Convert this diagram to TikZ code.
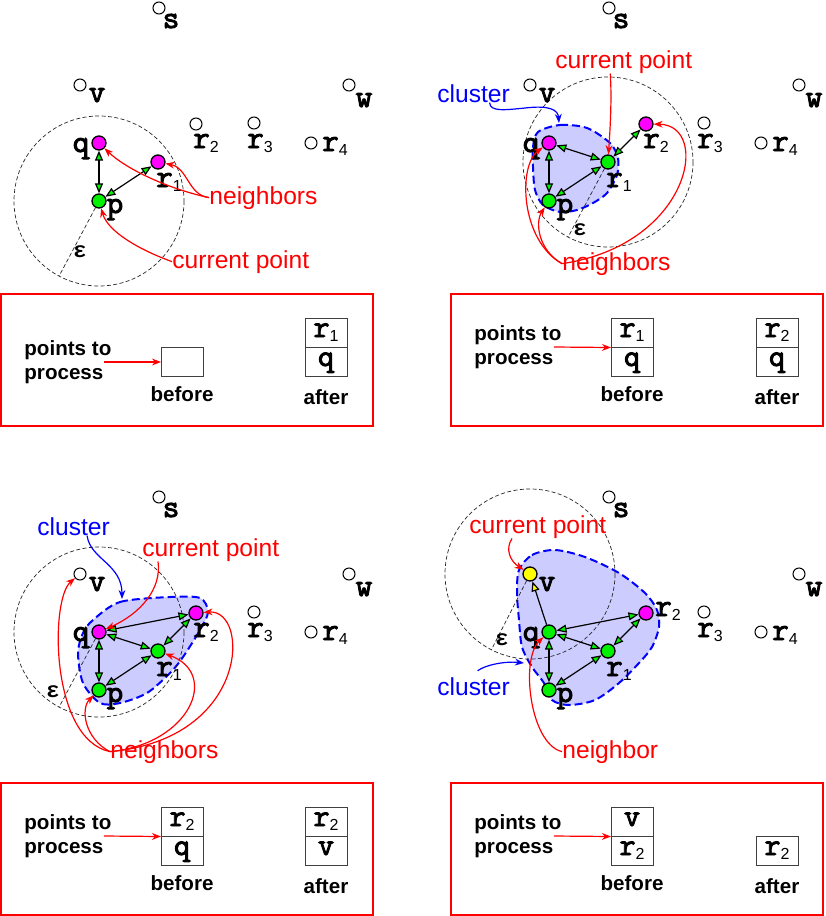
\documentclass[tikz,border=0pt]{standalone}
\usepackage{fontspec}
\setmainfont{Liberation Sans}
\setsansfont{Liberation Sans}
\setmonofont{Latin Modern Mono}[BoldFont={Latin Modern Mono},BoldFeatures={FakeBold=3}]
\newfontfamily\epsfont{Liberation Mono}
\usetikzlibrary{arrows.meta,positioning,calc,backgrounds}
\definecolor{ptgreen}{HTML}{00F000}
\definecolor{ptpink}{HTML}{FF00FF}
\definecolor{ptyellow}{HTML}{FFFF00}
\definecolor{clfill}{HTML}{CCCCFF}
\definecolor{clblue}{HTML}{0000FF}
\definecolor{nred}{HTML}{FF0000}
\newcommand\lsub[1]{\raisebox{-2pt}{\fontsize{8}{8}\selectfont\sffamily\mdseries#1}}
\tikzset{
  >={Stealth[length=4.5pt,width=3.4pt]},
  % punkter
  dot/.style={circle,draw=black,fill=white,line width=0.5pt,inner sep=0pt,
              minimum size=6pt},
  core/.style={fill=ptgreen,line width=0.65pt,minimum size=7pt},
  nbr/.style={fill=ptpink,line width=0.65pt,minimum size=7pt},
  cur/.style={fill=ptyellow,line width=0.65pt,minimum size=7pt},
  lbl/.style={font=\fontsize{16}{16}\selectfont\ttfamily\bfseries,inner sep=0pt,
              anchor=base},
  eps/.style={font=\fontsize{11}{11}\selectfont\epsfont\bfseries,inner sep=0pt},
  link/.style={{Triangle[length=5pt,width=4pt,fill=ptgreen]}-{Triangle[length=5pt,width=4pt,fill=ptgreen]},
               line width=0.6pt},
  tov/.style={-{Triangle[length=5pt,width=4pt,fill=ptyellow]},line width=0.6pt},
  rim/.style={draw=black!85,line width=0.35pt,dash pattern=on 2pt off 1.2pt},
  cluster/.style={draw=clblue,fill=clfill,line width=1pt,dash pattern=on 4pt off 2pt},
  % text
  note/.style={font=\fontsize{12.3}{12.3}\selectfont,text=nred,inner sep=0pt,
               anchor=base west},
  bnote/.style={note,text=clblue},
  ann/.style={->,draw=nred,line width=0.6pt},
  bann/.style={->,draw=clblue,line width=0.6pt},
  % kön
  qframe/.style={draw=nred,line width=0.7pt},
  cell/.style={draw=black!75,line width=0.5pt,minimum width=21pt,minimum height=14.5pt,
               inner sep=0pt,outer sep=0pt,text height=5pt,text depth=1pt,
               font=\fontsize{15.5}{15.5}\selectfont\ttfamily\bfseries},
  btxt/.style={font=\fontsize{10.3}{11.8}\selectfont\bfseries,align=left,inner sep=0pt},
  qcap/.style={font=\fontsize{10.3}{10.3}\selectfont\bfseries,inner sep=0pt},
}
% #1 v, #2 q, #3 r1, #4 r2, #5 p, #6 var r2-etiketten står
\newcommand\dbpoints[6]{%
  \node[dot,#1] (v) at (80,85) {};
  \node[dot,#2] (q) at (99,143) {};
  \node[dot,#3] (r1) at (158,162) {};
  \node[dot,#4] (r2) at (196,124) {};
  \node[dot,#5] (p) at (99,201) {};
  \node[dot] (s) at (159,8) {};
  \node[dot] (w) at (349,85) {};
  \node[dot] (r3) at (254,123) {};
  \node[dot] (r4) at (311,143) {};
  \node[lbl] (ls) at (171,28) {s};
  \node[lbl] (lv) at (97,102) {v};
  \node[lbl] (lw) at (364,107) {w};
  \node[lbl] (lq) at (81,152) {q};
  \node[lbl] (lp) at (115,213) {p};
  \node[lbl] (lr1) at (169,187) {r\lsub1};
  \node[lbl] (lr2) at #6 {r\lsub2};
  \node[lbl] (lr3) at (260,148) {r\lsub3};
  \node[lbl] (lr4) at (335,151) {r\lsub4};
}

\begin{document}
\begin{tikzpicture}[x=0.5pt,y=-0.5pt]
  \useasboundingbox (0,0) rectangle (825,916);

  % steg 1
  \begin{scope}
  \dbpoints{}{nbr}{nbr}{}{core}{(206,148)}
  \begin{scope}[on background layer]
  \draw[rim] (p.center) circle[radius=85];
  \end{scope}
  \draw[rim] (p) -- ++(118:85);
  \node[eps] (e) at (80,252) {ε};
  \draw[link] (q) -- (p);
  \draw[link] (r1) -- (p);
  \node[note] (nb) at (209,204) {neighbors};
  \node[note] (cp) at (172,268) {current point};
  \draw[ann] (nb.west) .. controls (165,188) and (125,168) .. (q);
  \draw[ann] (nb.west) .. controls (188,195) and (188,168) .. (r1);
  \draw[ann] (cp.west) .. controls (140,250) and (108,232) .. (p);
  \draw[qframe] (1,294) rectangle (373,426);
  \node[btxt,anchor=west] (ptp) at (24,362) {points to\\process};
  \node[cell] (b0) at (182,362) {};
  \node[qcap,below=5pt of b0] (bl) {before};
  \node[cell] (a0) at (326,362) {q};
  \node[cell,above=0pt of a0] (a1) {r\lsub1};
  \node[qcap,below=6.5pt of a0] (al) {after};
  \draw[ann] ([xshift=-4pt]ptp.east) -- (b0);
  \end{scope}

  % steg 2
  \begin{scope}[shift={(450,0)}]
  \dbpoints{}{nbr}{core}{nbr}{core}{(206,148)}
  \coordinate (c2) at (109,123);
  \begin{scope}[on background layer]
  \draw[cluster] plot[smooth cycle] coordinates {(88,132) (110,125) (137,128) (160,143)
    (168,158) (167,175) (157,193) (143,203) (127,210) (110,212) (93,205) (85,190)
    (83,167) (83,147)};
  \draw[rim] (r1.center) circle[radius=85];
  \end{scope}
  \draw[rim] (r1) -- ++(118:85);
  \node[eps] (e) at (130,230) {ε};
  \draw[link] (q) -- (p);
  \draw[link] (q) -- (r1);
  \draw[link] (r1) -- (p);
  \draw[link] (r1) -- (r2);
  \node[bnote] (cl) at (-13,102) {cluster};
  \node[note] (cp) at (105,68) {current point};
  \node[note] (nb) at (112,270) {neighbors};
  \draw[bann] ([xshift=8pt]cl.south) .. controls (40,112) and (55,110) .. (75,108)
    .. controls (100,105) and (108,110) .. (c2);
  \draw[ann] ([xshift=-6.75pt]cp.south) .. controls (162,100) and (160,130) .. (r1);
  \draw[ann] (nb.west) .. controls (70,240) and (68,165) .. (q);
  \draw[ann] (nb.west) .. controls (88,250) and (85,222) .. (p);
  \draw[ann] (nb.west) .. controls (240,245) and (262,125) .. (r2);
  \draw[qframe] (1,294) rectangle (373,426);
  \node[btxt,anchor=west] (ptp) at (24,347) {points to\\process};
  \node[cell] (b0) at (182,362) {q};
  \node[cell,above=0pt of b0] (b1) {r\lsub1};
  \node[qcap,below=5pt of b0] (bl) {before};
  \node[cell] (a0) at (327,362) {q};
  \node[cell,above=0pt of a0] (a1) {r\lsub2};
  \node[qcap,below=6.5pt of a0] (al) {after};
  \draw[ann] ([xshift=-4pt]ptp.east) -- (b1.south west);
  \end{scope}

  % steg 3
  \begin{scope}[shift={(0,489)}]
  \dbpoints{}{nbr}{core}{nbr}{core}{(206,148)}
  \coordinate (c3) at (122,110);
  \begin{scope}[on background layer]
  \draw[cluster] plot[smooth cycle] coordinates {(93,131) (120,113) (170,108) (200,109)
    (208,123) (200,141) (183,168) (170,184) (147,204) (120,214) (100,214) (83,194)
    (78,164) (83,144)};
  \draw[rim] (q.center) circle[radius=85];
  \end{scope}
  \draw[rim] (q) -- ++(118:85);
  \node[eps] (e) at (53,203) {ε};
  \draw[link] (q) -- (r2);
  \draw[link] (q) -- (r1);
  \draw[link] (q) -- (p);
  \draw[link] (r1) -- (p);
  \draw[link] (r1) -- (r2);
  \node[bnote] (cl) at (37,46) {cluster};
  \node[note] (cp) at (142,67) {current point};
  \node[note] (nb) at (110,269) {neighbors};
  \draw[bann] ([xshift=6.75pt]cl.south) .. controls (90,70) and (122,75) .. (c3);
  \draw[ann] ([xshift=8pt]cp.south west) .. controls (162,100) and (140,125) .. (q);
  \draw[ann] (nb.west) .. controls (50,250) and (50,110) .. (v);
  \draw[ann] (nb.west) .. controls (85,250) and (80,220) .. (p);
  \draw[ann] (nb.west) .. controls (190,255) and (220,185) .. (r1);
  \draw[ann] (nb.west) .. controls (250,250) and (250,120) .. (r2);
  \draw[qframe] (1,294) rectangle (373,426);
  \node[btxt,anchor=west] (ptp) at (24,347) {points to\\process};
  \node[cell] (b0) at (182,362) {q};
  \node[cell,above=0pt of b0] (b1) {r\lsub2};
  \node[qcap,below=5pt of b0] (bl) {before};
  \node[cell] (a0) at (326,362) {v};
  \node[cell,above=0pt of a0] (a1) {r\lsub2};
  \node[qcap,below=6.5pt of a0] (al) {after};
  \draw[ann] ([xshift=-4pt]ptp.east) -- (b1.south west);
  \end{scope}

  % steg 4
  \begin{scope}[shift={(450,489)}]
  \dbpoints{cur}{core}{core}{nbr}{core}{(218,127)}
  \coordinate (c4) at (74,174);
  \begin{scope}[on background layer]
  \draw[cluster] plot[smooth cycle] coordinates {(69,81) (82,66) (105,61) (135,68)
    (169,84) (195,104) (207,121) (209,138) (202,158) (189,174) (169,194) (145,211)
    (119,216) (102,211) (94,194) (82,178) (72,158) (69,131) (67,104)};
  \draw[rim] (v.center) circle[radius=85];
  \end{scope}
  \draw[rim] (v) -- ++(117:85);
  \node[eps] (e) at (52,151) {ε};
  \draw[tov] (q) -- (v);
  \draw[link] (q) -- (r2);
  \draw[link] (q) -- (r1);
  \draw[link] (q) -- (p);
  \draw[link] (r1) -- (p);
  \draw[link] (r1) -- (r2);
  \node[note] (cp) at (19,44) {current point};
  \node[bnote] (cl) at (-13,206) {cluster};
  \node[note] (nb) at (112,269) {neighbor};
  \draw[ann] ([xshift=21.5pt]cp.south west) .. controls (55,60) and (60,72) .. (v);
  \draw[bann] ([xshift=2pt,yshift=3pt]cl.north) .. controls (35,176) and (55,172) .. (c4);
  \draw[ann] (nb.west) .. controls (80,255) and (70,170) .. (q);
  \draw[qframe] (1,294) rectangle (373,426);
  \node[btxt,anchor=west] (ptp) at (24,347) {points to\\process};
  \node[cell] (b0) at (182,362) {r\lsub2};
  \node[cell,above=0pt of b0] (b1) {v};
  \node[qcap,below=5pt of b0] (bl) {before};
  \node[cell] (a0) at (327,362) {r\lsub2};
  \node[qcap,below=6.5pt of a0] (al) {after};
  \draw[ann] ([xshift=-4pt]ptp.east) -- (b1.south west);
  \end{scope}
\end{tikzpicture}
\end{document}
